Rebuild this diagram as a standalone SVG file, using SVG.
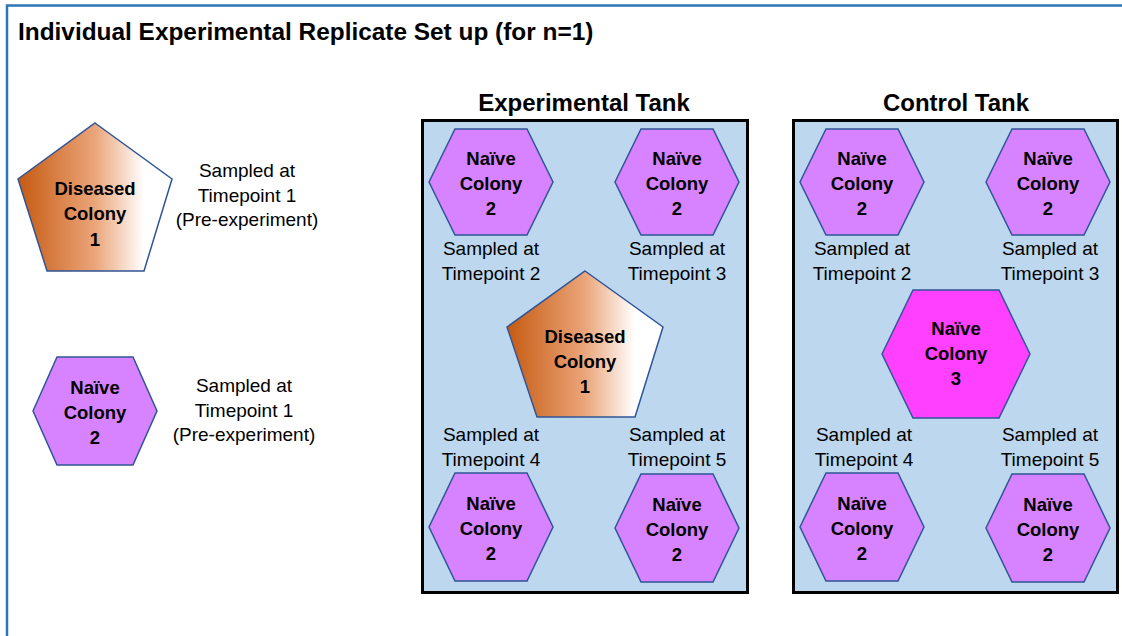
<svg xmlns="http://www.w3.org/2000/svg" width="1122" height="636" viewBox="0 0 1122 636">
<style>
.frame{fill:none;stroke:#2E75B6;stroke-width:2.5}
.tank{fill:#BDD7EE;stroke:#000;stroke-width:3}
.hex{fill:#D783FF;stroke:#2F5597;stroke-width:1.5}
.hex3{fill:#FF40FF;stroke:#2F5597;stroke-width:1.5}
.pent{fill:url(#orange);stroke:#2F5597;stroke-width:1.5}
text{font-family:"Liberation Sans",Arial,sans-serif;fill:#000;text-anchor:middle}
.title{font-size:24.4px;font-weight:bold;text-anchor:start}
.ttl{font-size:24px;font-weight:bold}
.nt{font-size:18.5px;font-weight:bold}
.lb{font-size:19px}
</style>
<defs>
<linearGradient id="orange" x1="0" y1="0" x2="1" y2="0">
<stop offset="0" stop-color="#C55A11"/>
<stop offset="0.5" stop-color="#EBA57A"/>
<stop offset="0.82" stop-color="#FFFFFF"/>
<stop offset="1" stop-color="#FFFFFF"/>
</linearGradient>
</defs>
<rect width="1122" height="636" fill="#FFFFFF"/>
<path class="frame" d="M7,636 V5.5 H1122"/>
<text class="title" x="18" y="40">Individual Experimental Replicate Set up (for n=1)</text>

<g id="tank-experimental">
<rect class="tank" x="422.5" y="120.5" width="325" height="472"/>
<text class="ttl" x="584" y="111">Experimental Tank</text>
</g>
<g id="tank-control">
<rect class="tank" x="793.5" y="120.5" width="324" height="472"/>
<text class="ttl" x="956" y="111">Control Tank</text>
</g>

<g id="left-diseased">
<polygon class="pent" points="95,123 172,179 144,271 47,271 18,179"/>
<text class="nt" x="95" y="195">Diseased</text>
<text class="nt" x="95" y="220">Colony</text>
<text class="nt" x="95" y="246">1</text>
<text class="lb" x="247" y="177">Sampled at</text>
<text class="lb" x="247" y="202">Timepoint 1</text>
<text class="lb" x="247" y="226">(Pre-experiment)</text>
</g>

<g id="left-naive">
<polygon class="hex" points="33,411 57,357 133,357 157,411 133,465 57,465"/>
<text class="nt" x="95" y="394">Naïve</text>
<text class="nt" x="95" y="419">Colony</text>
<text class="nt" x="95" y="444">2</text>
<text class="lb" x="244" y="392">Sampled at</text>
<text class="lb" x="244" y="417">Timepoint 1</text>
<text class="lb" x="244" y="441">(Pre-experiment)</text>
</g>

<g id="exp-naive-tp2">
<polygon class="hex" points="429,182 455,129 527,129 553,182 527,235 455,235"/>
<text class="nt" x="491" y="165">Naïve</text>
<text class="nt" x="491" y="190">Colony</text>
<text class="nt" x="491" y="215">2</text>
<text class="lb" x="491" y="255">Sampled at</text>
<text class="lb" x="491" y="280">Timepoint 2</text>
</g>
<g id="exp-naive-tp3">
<polygon class="hex" points="615,182 641,129 713,129 739,182 713,235 641,235"/>
<text class="nt" x="677" y="165">Naïve</text>
<text class="nt" x="677" y="190">Colony</text>
<text class="nt" x="677" y="215">2</text>
<text class="lb" x="677" y="255">Sampled at</text>
<text class="lb" x="677" y="280">Timepoint 3</text>
</g>
<g id="exp-diseased">
<polygon class="pent" points="585,271 663,327 635,417 537,417 507,327"/>
<text class="nt" x="585" y="343">Diseased</text>
<text class="nt" x="585" y="368">Colony</text>
<text class="nt" x="585" y="393">1</text>
</g>
<g id="exp-naive-tp4">
<text class="lb" x="491" y="441">Sampled at</text>
<text class="lb" x="491" y="466">Timepoint 4</text>
<polygon class="hex" points="429,527 455,473 527,473 553,527 527,581 455,581"/>
<text class="nt" x="491" y="510">Naïve</text>
<text class="nt" x="491" y="535">Colony</text>
<text class="nt" x="491" y="560">2</text>
</g>
<g id="exp-naive-tp5">
<text class="lb" x="677" y="441">Sampled at</text>
<text class="lb" x="677" y="466">Timepoint 5</text>
<polygon class="hex" points="615,528 641,474 713,474 739,528 713,582 641,582"/>
<text class="nt" x="677" y="511">Naïve</text>
<text class="nt" x="677" y="536">Colony</text>
<text class="nt" x="677" y="561">2</text>
</g>

<g id="ctl-naive-tp2">
<polygon class="hex" points="800,182 826,129 898,129 924,182 898,235 826,235"/>
<text class="nt" x="862" y="165">Naïve</text>
<text class="nt" x="862" y="190">Colony</text>
<text class="nt" x="862" y="215">2</text>
<text class="lb" x="862" y="255">Sampled at</text>
<text class="lb" x="862" y="280">Timepoint 2</text>
</g>
<g id="ctl-naive-tp3">
<polygon class="hex" points="986,182 1012,129 1084,129 1110,182 1084,235 1012,235"/>
<text class="nt" x="1048" y="165">Naïve</text>
<text class="nt" x="1048" y="190">Colony</text>
<text class="nt" x="1048" y="215">2</text>
<text class="lb" x="1050" y="255">Sampled at</text>
<text class="lb" x="1050" y="280">Timepoint 3</text>
</g>
<g id="ctl-naive-3">
<polygon class="hex3" points="882,354 913,290 999,290 1030,354 999,418 913,418"/>
<text class="nt" x="956" y="335">Naïve</text>
<text class="nt" x="956" y="360">Colony</text>
<text class="nt" x="956" y="385">3</text>
</g>
<g id="ctl-naive-tp4">
<text class="lb" x="864" y="441">Sampled at</text>
<text class="lb" x="864" y="466">Timepoint 4</text>
<polygon class="hex" points="800,527 826,473 898,473 924,527 898,581 826,581"/>
<text class="nt" x="862" y="510">Naïve</text>
<text class="nt" x="862" y="535">Colony</text>
<text class="nt" x="862" y="560">2</text>
</g>
<g id="ctl-naive-tp5">
<text class="lb" x="1050" y="441">Sampled at</text>
<text class="lb" x="1050" y="466">Timepoint 5</text>
<polygon class="hex" points="986,528 1012,474 1084,474 1110,528 1084,582 1012,582"/>
<text class="nt" x="1048" y="511">Naïve</text>
<text class="nt" x="1048" y="536">Colony</text>
<text class="nt" x="1048" y="561">2</text>
</g>

<g id="connectors"></g>
</svg>
